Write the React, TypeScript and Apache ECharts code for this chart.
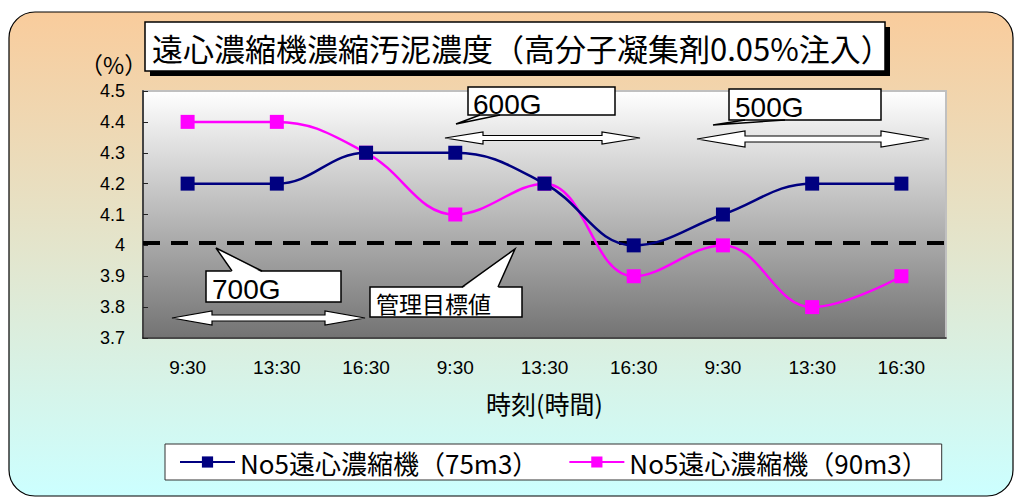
import React, { useEffect, useRef } from "react";
import * as echarts from "echarts";

const categories = ["9:30", "13:30", "16:30", "9:30", "13:30", "16:30", "9:30", "13:30", "16:30"];
const series75 = [4.2, 4.2, 4.3, 4.3, 4.2, 4.0, 4.1, 4.2, 4.2];
const series90 = [4.4, 4.4, 4.3, 4.1, 4.2, 3.9, 4.0, 3.8, 3.9];
const seriesNames = ["No5遠心濃縮機（75m3）", "No5遠心濃縮機（90m3）"];
const controlTarget = 4.013;
const yMin = 3.7;
const yMax = 4.5;
const yStep = 0.1;
const titleText = "遠心濃縮機濃縮汚泥濃度（高分子凝集剤0.05%注入）";
const unitText = "（%）";
const xAxisName = "時刻(時間)";
const gLabels = ["600G", "500G", "700G"];
const targetLabel = "管理目標値";

const JP = "'Noto Sans CJK JP', 'Noto Sans', sans-serif";
const NUM = "'Liberation Sans', Arial, sans-serif";

function dblArrow(x1: number, x2: number, cy: number, head: number, hh: number, sh: number) {
  return {
    type: "polygon",
    z: 100,
    shape: {
      points: [
        [x1, cy], [x1 + head, cy - hh], [x1 + head, cy - sh], [x2 - head, cy - sh],
        [x2 - head, cy - hh], [x2, cy], [x2 - head, cy + hh], [x2 - head, cy + sh],
        [x1 + head, cy + sh], [x1 + head, cy + hh],
      ],
    },
    style: { fill: "#fff", stroke: "#000", lineWidth: 1.2 },
  };
}

function box(x: number, y: number, w: number, h: number) {
  return {
    type: "rect", z: 100,
    shape: { x, y, width: w, height: h },
    style: { fill: "#fff", stroke: "#000", lineWidth: 1.5 },
  };
}

function callout(tip: number[], a: number[], b: number[]) {
  return [
    { type: "polygon", z: 101, shape: { points: [tip, [a[0], a[1] + 1.5], [b[0], b[1] + 1.5]] }, style: { fill: "#fff" } },
    { type: "polyline", z: 102, shape: { points: [a, tip, b] }, style: { stroke: "#000", lineWidth: 1.5, fill: null } },
  ];
}

function label(text: string, x: number, y: number, size: number, family: string) {
  return {
    type: "text", z: 103, x, y,
    style: { text, fill: "#000", font: `${size}px ${family}`, textVerticalAlign: "middle" },
  };
}

export default function App() {
  const ref = useRef<HTMLDivElement>(null);
  useEffect(() => {
    document.body.style.margin = "0";
    const chart = echarts.init(ref.current!, undefined, { renderer: "svg" });
    chart.setOption({
      animation: false,
      backgroundColor: "#ffffff",
      grid: {
        left: 143, top: 91, right: 72, bottom: 160,
        show: true,
        backgroundColor: new echarts.graphic.LinearGradient(0, 0, 0, 1, [
          { offset: 0, color: "#ffffff" },
          { offset: 1, color: "#737373" },
        ]),
        borderColor: "#c0c0c0",
        borderWidth: 2,
      },
      xAxis: {
        type: "category",
        data: categories,
        boundaryGap: true,
        axisLine: { lineStyle: { color: "#222", width: 1.5 } },
        axisTick: { inside: true, length: 5, lineStyle: { color: "#222" } },
        axisLabel: { color: "#000", fontSize: 19, fontFamily: NUM, margin: 20 },
        name: xAxisName,
        nameLocation: "middle",
        nameGap: 52,
        nameTextStyle: { color: "#000", fontSize: 25, fontFamily: JP },
      },
      yAxis: {
        type: "value",
        min: yMin, max: yMax, interval: yStep,
        splitLine: { show: false },
        axisLine: { show: true, lineStyle: { color: "#444", width: 2 } },
        axisTick: { show: true, inside: true, length: 5, lineStyle: { color: "#222" } },
        axisLabel: {
          color: "#000", fontSize: 18, fontFamily: NUM, margin: 18,
          formatter: (v: number) => String(Math.round(v * 10) / 10),
        },
      },
      legend: {
        data: seriesNames,
        left: 165, top: 444,
        padding: [5, 14, 5, 14],
        backgroundColor: "#fff",
        borderColor: "#333",
        borderWidth: 1,
        itemWidth: 55, itemHeight: 14, itemGap: 30,
        textStyle: { color: "#000", fontSize: 26, fontFamily: JP },
      },
      series: [
        {
          name: seriesNames[0], type: "line", data: series75, smooth: 0.4,
          symbol: "rect", symbolSize: 14,
          itemStyle: { color: "#000080" },
          lineStyle: { color: "#000080", width: 2.5 },
          z: 5,
          markLine: {
            silent: true, symbol: "none", label: { show: false },
            lineStyle: { color: "#000", width: 4, type: [17, 11] },
            data: [{ yAxis: controlTarget }],
            z: 3,
          },
        },
        {
          name: seriesNames[1], type: "line", data: series90, smooth: 0.4,
          symbol: "rect", symbolSize: 14,
          itemStyle: { color: "#ff00ff" },
          lineStyle: { color: "#ff00ff", width: 2.5 },
          z: 4,
        },
      ],
      graphic: [
        {
          type: "rect", z: -100, silent: true,
          shape: { x: 9, y: 12, width: 1004, height: 484, r: 26 },
          style: {
            fill: new echarts.graphic.LinearGradient(0, 0, 0, 1, [
              { offset: 0, color: "#f9cc9c" },
              { offset: 1, color: "#ccffff" },
            ]),
            stroke: "#000", lineWidth: 1.2,
          },
        },
        label(unitText, 80, 64, 23, JP),
        { type: "rect", z: 100, shape: { x: 150, y: 27, width: 740, height: 49 }, style: { fill: "#000" } },
        box(145, 22, 740, 49),
        label(titleText, 152, 47, 31, JP),
        // 600G
        box(468, 87, 147, 28),
        ...callout([456, 124], [480, 115], [500, 115]),
        label(gLabels[0], 473, 104, 28, NUM),
        dblArrow(445, 640, 138, 38, 6, 2.5),
        // 500G
        box(729, 89, 152, 31),
        ...callout([713, 125], [745, 120], [785, 120]),
        label(gLabels[1], 735, 107, 28, NUM),
        dblArrow(697, 929, 139, 48, 8, 3),
        // 700G
        box(206, 271, 135, 31),
        ...callout([216, 248], [232, 271], [262, 271]),
        label(gLabels[2], 212, 289, 28, NUM),
        dblArrow(172, 365, 318, 40, 7, 3),
        // target
        box(370, 287, 152, 30),
        ...callout([515, 249], [462, 287], [498, 287]),
        label(targetLabel, 376, 303, 23, JP),
      ],
    });
    return () => chart.dispose();
  }, []);
  return <div ref={ref} style={{ width: 1018, height: 498 }} />;
}
